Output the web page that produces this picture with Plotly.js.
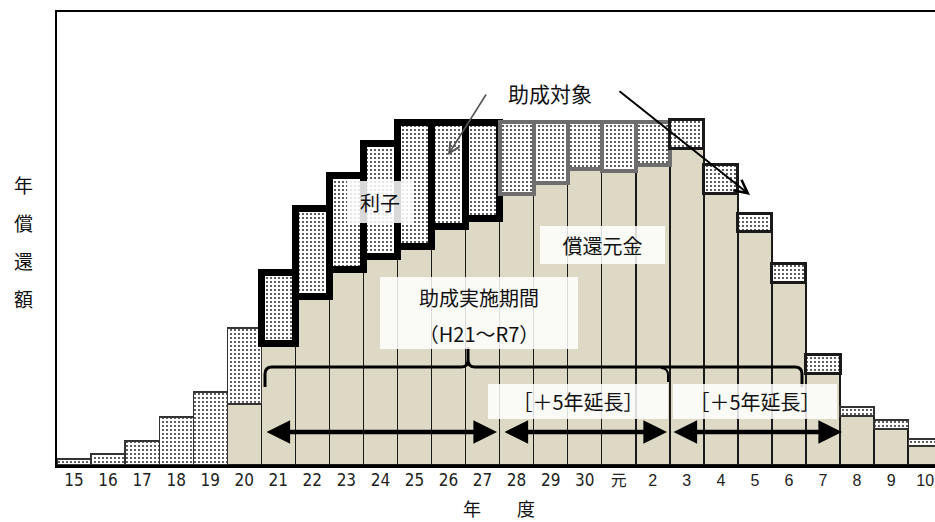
<!DOCTYPE html>
<html>
<head>
<meta charset="utf-8">
<script src="https://cdn.plot.ly/plotly-3.0.1.min.js"></script>
<style>html,body{margin:0;padding:0;background:#fff;}#chart{width:935px;height:522px;}</style>
</head>
<body>
<div id="chart"></div>
<script>
// ---- data (relative units, unlabeled axis) ----
const years = ['15','16','17','18','19','20','21','22','23','24','25','26','27','28','29','30','元','2','3','4','5','6','7','8','9','10'];
const principal = [0,0,0,0,0,61,121.5,169,196,209,219,239,246.5,271,282,296,294,300,317,272,234,183,92,49,36,19];
const interest  = [6,11,24,48,73,76,71,88,94,112.5,123.5,103.5,96,72,61,47,49,43,29,29,18,19,19,9,9,7];
const narrowTicks = ['15','16','17','18','19','20','21','22','23','24','25','26','27','28','29','30'];
const seriesNames = ['償還元金','利子'];

// ---- helpers: pixel -> paper ----
const L = 57, R = 935, T = 12, B = 465;
const X = x => (x - L) / (R - L);
const Y = y => (B - y) / (B - T);
const P = (x, y) => X(x) + ',' + Y(y);

const JP = '"Noto Sans CJK JP", "Noto Sans", sans-serif';

// per-bar outline styles for interest boxes
const lineW = years.map((_, i) => i <= 5 ? 1.2 : i <= 12 ? 7 : i <= 17 ? 4 : i <= 22 ? 3 : 1.2);
const lineC = years.map((_, i) => i <= 5 ? '#333' : i <= 12 ? '#000' : i <= 17 ? '#6e6e6e' : i <= 22 ? '#1a1a1a' : '#333');

const tickText = years.map(t => narrowTicks.includes(t) ? t :
  '<span style="font-family:Liberation Sans, Noto Sans CJK JP;font-size:16px">' + t + '</span>');

const traces = [
  {
    type: 'bar', name: seriesNames[0], x: years, y: principal,
    marker: { color: '#DDD9C4', line: { color: '#1a1a1a', width: 1.5 } },
    hoverinfo: 'skip'
  },
  {
    type: 'bar', name: seriesNames[1], x: years, y: interest,
    marker: {
      color: '#fff',
      pattern: { shape: '.', fgcolor: '#111', bgcolor: '#fff', size: 4, solidity: 0.16 },
      line: { color: lineC, width: lineW }
    },
    hoverinfo: 'skip'
  }
];

const box = (text, cx, cy, w, h) => ({
  xref: 'paper', yref: 'paper', x: X(cx), y: Y(cy), xanchor: 'center', yanchor: 'middle',
  text: text, showarrow: false, width: w, height: h, bgcolor: 'rgba(255,255,255,0.85)',
  borderwidth: 0, borderpad: 0, font: { family: JP, size: 20, color: '#111' }
});
const dbl = (x1, x2, y) => ({
  xref: 'paper', yref: 'paper', x: X(x2), y: Y(y), ax: x1 - x2, ay: 0, axref: 'pixel', ayref: 'pixel',
  text: '', showarrow: true, arrowside: 'end+start', arrowhead: 2, arrowwidth: 4.5, arrowsize: 1.05, arrowcolor: '#000'
});
const ylab = (ch, y) => ({
  xref: 'paper', yref: 'paper', x: X(23), y: Y(y), xanchor: 'center', yanchor: 'middle',
  text: ch, showarrow: false, font: { family: JP, size: 19, color: '#111' }
});

const annotations = [
  box('利子', 380, 202, 66, 42),
  box('償還元金', 602, 245, 125, 38),
  box('助成実施期間', 479, 297, 198, 40),
  box('（H21～R7）', 479, 333, 198, 32),
  box('［＋5年延長］', 578, 401, 180, 35),
  box('［＋5年延長］', 755, 401, 164, 35),
  { xref: 'paper', yref: 'paper', x: X(550), y: Y(93), xanchor: 'center', yanchor: 'middle',
    text: '助成対象', showarrow: false, font: { family: JP, size: 21, color: '#111' } },
  { xref: 'paper', yref: 'paper', x: X(448), y: Y(155), ax: 39, ay: -62, axref: 'pixel', ayref: 'pixel',
    text: '', showarrow: true, arrowhead: 5, arrowwidth: 1.6, arrowsize: 1.3, arrowcolor: '#555' },
  { xref: 'paper', yref: 'paper', x: X(750), y: Y(195), ax: -132, ay: -105, axref: 'pixel', ayref: 'pixel',
    text: '', showarrow: true, arrowhead: 5, arrowwidth: 2, arrowsize: 1.3, arrowcolor: '#000' },
  dbl(265, 497, 432),
  dbl(503, 667, 432),
  dbl(672, 842, 432),
  ylab('年', 184), ylab('償', 222), ylab('還', 260), ylab('額', 298),
  { xref: 'paper', yref: 'paper', x: X(499), y: Y(508), xanchor: 'center', yanchor: 'middle',
    text: '年　　度', showarrow: false, font: { family: JP, size: 18, color: '#111' } }
];

const bracePath = 'M' + P(265, 387) + ' L' + P(265, 374) + ' Q' + P(265, 367) + ' ' + P(272, 367) +
  ' L' + P(461, 367) + ' Q' + P(468, 367) + ' ' + P(468, 360) + ' L' + P(468, 347) +
  ' L' + P(468, 360) + ' Q' + P(468, 367) + ' ' + P(475, 367) +
  ' L' + P(795, 367) + ' Q' + P(802, 367) + ' ' + P(802, 374) + ' L' + P(802, 387);
const hookPath = 'M' + P(661, 368) + ' Q' + P(668, 368) + ' ' + P(668, 375) + ' L' + P(668, 382);

const layout = {
  width: 935, height: 522,
  margin: { l: L, r: 935 - R, t: T, b: 522 - B },
  paper_bgcolor: '#fff', plot_bgcolor: '#fff',
  barmode: 'stack', bargap: 0, showlegend: false,
  xaxis: {
    type: 'category', range: [-0.5, 25.29], tickvals: years, ticktext: tickText,
    showline: true, mirror: true, linewidth: 2.5, linecolor: '#000', ticks: '', showgrid: false, zeroline: false,
    tickfont: { family: '"Liberation Sans Narrow", "DejaVu Sans Condensed", "Liberation Sans", sans-serif', size: 17, color: '#222' },
    ticklabelstandoff: -2,
    fixedrange: true
  },
  yaxis: {
    range: [0, B - T], showline: true, linewidth: 2.5, linecolor: '#000', showticklabels: false,
    ticks: '', showgrid: false, zeroline: false, fixedrange: true
  },
  shapes: [
    { type: 'path', xref: 'paper', yref: 'paper', path: bracePath, line: { color: '#000', width: 3 } },
    { type: 'path', xref: 'paper', yref: 'paper', path: hookPath, line: { color: '#000', width: 2 } }
  ],
  annotations: annotations
};

Plotly.newPlot('chart', traces, layout, { staticPlot: true, displayModeBar: false });
</script>
</body>
</html>
